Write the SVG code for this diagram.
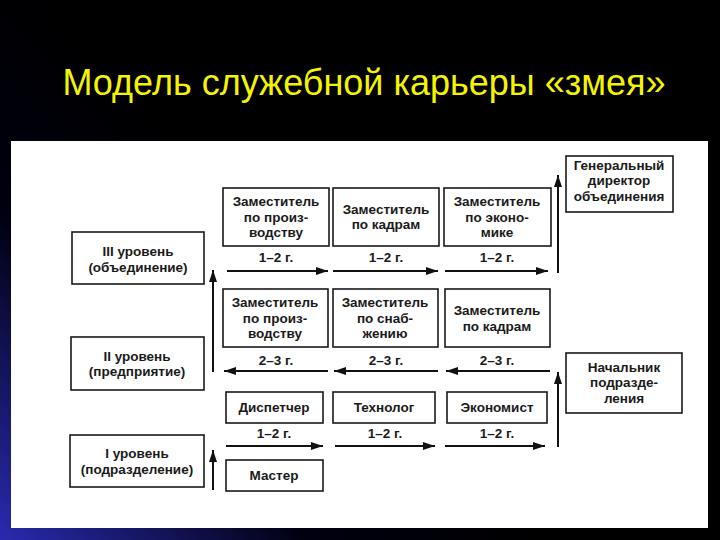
<svg xmlns="http://www.w3.org/2000/svg" width="720" height="540" viewBox="0 0 720 540">
<defs>
<linearGradient id="bg" gradientUnits="userSpaceOnUse" x1="300" y1="260" x2="0" y2="540">
<stop offset="0" stop-color="#000000"/>
<stop offset="0.45" stop-color="#000010"/>
<stop offset="1" stop-color="#2a2ab0"/>
</linearGradient>
<marker id="ah" viewBox="0 0 12 8" refX="12" refY="4" markerWidth="12" markerHeight="8" markerUnits="userSpaceOnUse" orient="auto">
<path d="M0,0 L12,4 L0,8 Z" fill="#111"/>
</marker>
<style>
.box{fill:#fff;stroke:#1a1a1a;stroke-width:1.6}
.t{font-family:"Liberation Sans",Arial,sans-serif;font-size:13.5px;font-weight:bold;fill:#1a1a1a;text-anchor:middle}
.c{stroke:#111;stroke-width:2;fill:none;marker-end:url(#ah)}
.title{font-family:"Liberation Sans",Arial,sans-serif;font-size:36px;fill:#f4f400;text-anchor:middle}
</style>
</defs>
<rect width="720" height="540" fill="url(#bg)"/>
<text class="title" x="364" y="95">Модель служебной карьеры «змея»</text>
<rect x="11" y="141" width="697" height="387" fill="#ffffff"/>

<g id="connectors">
<path class="c" d="M227,271 H328"/>
<path class="c" d="M333,271 H438"/>
<path class="c" d="M445,271 H548"/>
<path class="c" d="M558,273 V175"/>
<path class="c" d="M213,372 V270"/>
<path class="c" d="M328,371 H224"/>
<path class="c" d="M438,371 H334"/>
<path class="c" d="M550,371 H446"/>
<path class="c" d="M558,447 V372"/>
<path class="c" d="M226,446 H323"/>
<path class="c" d="M335,446 H435"/>
<path class="c" d="M445,446 H545"/>
<path class="c" d="M213,490 V450"/>
</g>

<g id="labels">
<text class="t" x="276" y="262">1–2 г.</text>
<text class="t" x="386" y="262">1–2 г.</text>
<text class="t" x="497" y="262">1–2 г.</text>
<text class="t" x="276" y="365">2–3 г.</text>
<text class="t" x="386" y="365">2–3 г.</text>
<text class="t" x="497" y="365">2–3 г.</text>
<text class="t" x="274" y="438">1–2 г.</text>
<text class="t" x="385" y="438">1–2 г.</text>
<text class="t" x="497" y="438">1–2 г.</text>
</g>

<g id="level3">
<rect class="box" x="72" y="232" width="132" height="52"/>
<text class="t" x="138" y="256">III уровень</text>
<text class="t" x="138" y="271.5">(объединение)</text>
</g>
<g id="level2">
<rect class="box" x="71" y="337" width="133" height="53"/>
<text class="t" x="137" y="360.5">II уровень</text>
<text class="t" x="137" y="376">(предприятие)</text>
</g>
<g id="level1">
<rect class="box" x="70" y="435" width="134" height="52"/>
<text class="t" x="137" y="458">I уровень</text>
<text class="t" x="137" y="474">(подразделение)</text>
</g>

<g id="r1a">
<rect class="box" x="223" y="188" width="106" height="58"/>
<text class="t" x="276" y="206">Заместитель</text>
<text class="t" x="276" y="221.5">по произ-</text>
<text class="t" x="276" y="237">водству</text>
</g>
<g id="r1b">
<rect class="box" x="333" y="188" width="106" height="58"/>
<text class="t" x="386" y="213.5">Заместитель</text>
<text class="t" x="386" y="229">по кадрам</text>
</g>
<g id="r1c">
<rect class="box" x="444" y="188" width="107" height="58"/>
<text class="t" x="497" y="206">Заместитель</text>
<text class="t" x="497" y="221.5">по эконо-</text>
<text class="t" x="497" y="237">мике</text>
</g>
<g id="gendir">
<rect class="box" x="566" y="156" width="107" height="56"/>
<text class="t" x="619" y="169.5">Генеральный</text>
<text class="t" x="619" y="185">директор</text>
<text class="t" x="619" y="200.5">объединения</text>
</g>

<g id="r2a">
<rect class="box" x="223" y="289" width="105" height="58"/>
<text class="t" x="275" y="307">Заместитель</text>
<text class="t" x="275" y="322.5">по произ-</text>
<text class="t" x="275" y="338">водству</text>
</g>
<g id="r2b">
<rect class="box" x="333" y="289" width="105" height="58"/>
<text class="t" x="385" y="307">Заместитель</text>
<text class="t" x="385" y="322.5">по снаб-</text>
<text class="t" x="385" y="338">жению</text>
</g>
<g id="r2c">
<rect class="box" x="445" y="289" width="105" height="58"/>
<text class="t" x="497" y="315">Заместитель</text>
<text class="t" x="497" y="330.5">по кадрам</text>
</g>
<g id="nach">
<rect class="box" x="566" y="353" width="116" height="60"/>
<text class="t" x="624" y="371.5">Начальник</text>
<text class="t" x="624" y="387">подразде-</text>
<text class="t" x="624" y="402.5">ления</text>
</g>

<g id="r3a">
<rect class="box" x="226" y="392" width="97" height="31"/>
<text class="t" x="274" y="412">Диспетчер</text>
</g>
<g id="r3b">
<rect class="box" x="333" y="392" width="102" height="31"/>
<text class="t" x="384" y="412">Технолог</text>
</g>
<g id="r3c">
<rect class="box" x="447" y="392" width="100" height="31"/>
<text class="t" x="497" y="412">Экономист</text>
</g>
<g id="master">
<rect class="box" x="226" y="460" width="97" height="31"/>
<text class="t" x="274" y="480">Мастер</text>
</g>
</svg>
